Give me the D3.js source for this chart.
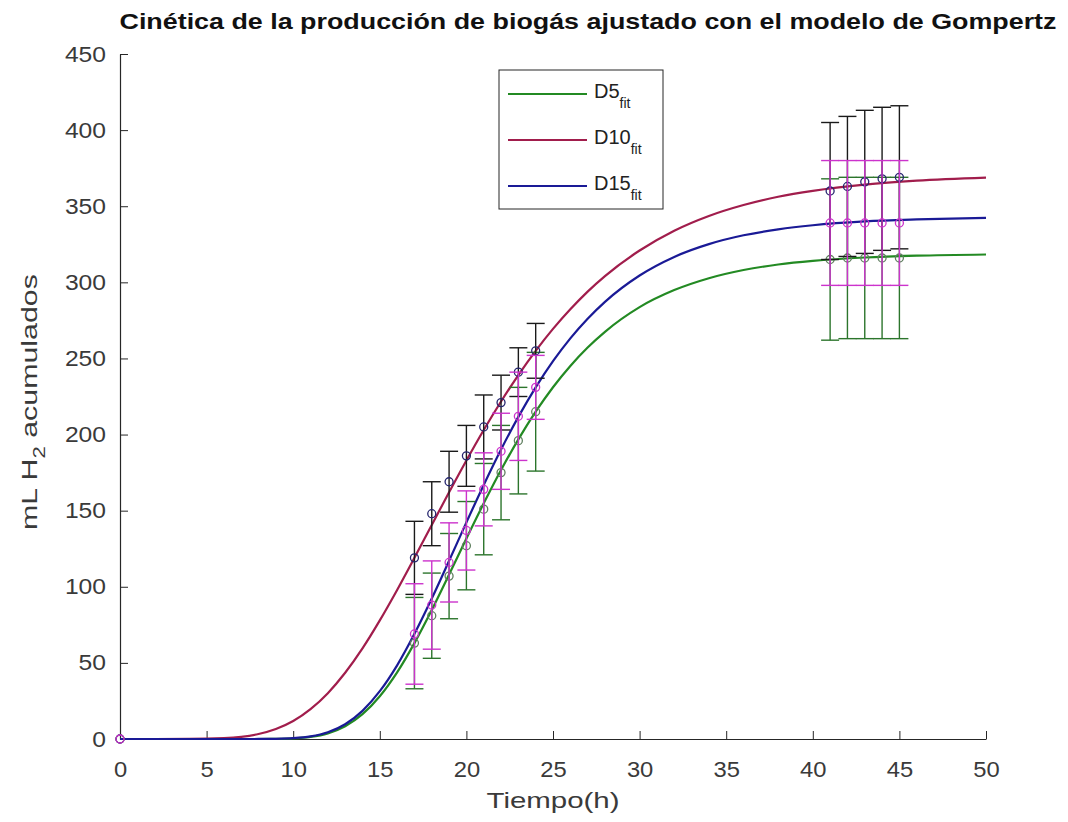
<!DOCTYPE html>
<html>
<head>
<meta charset="utf-8">
<script src="https://cdn.jsdelivr.net/npm/d3@7"></script>
<style>
  body { margin: 0; background: #fff; }
  svg text { font-family: "Liberation Sans", Arial, sans-serif; }
</style>
</head>
<body>
<svg id="chart" width="1068" height="822"></svg>
<script>
// fitted curves
const tFit = [0,4,6,7,8,9,10,11,12,13,14,15,16,17,18,19,20,21,22,23,24,25,26,27,28,30,32,34,36,38,40,43,46,50];
const d5Fit = [0,0,0,0,0.01,0.09,0.4,1.37,3.7,8.4,16.3,28.1,43.8,63.0,84.7,108.0,131.7,154.8,176.7,196.8,215.0,231.1,245.1,257.2,267.5,283.7,294.9,302.7,308.1,311.7,314.1,316.3,317.5,318.3];
const d10Fit = [0,0.05,0.56,1.44,3.26,6.52,11.8,19.6,30.1,43.5,59.5,77.9,97.9,119.0,140.6,162.1,183.0,203.0,221.7,239.1,255.0,269.4,282.3,293.9,304.1,320.9,333.9,343.6,350.8,356.2,360.1,364.2,366.8,368.8];
const d15Fit = [0,0,0,0,0.02,0.12,0.52,1.68,4.4,9.7,18.5,31.4,48.4,69.1,92.3,117.1,142.3,166.9,190.2,211.6,231.0,248.2,263.2,276.1,287.2,304.5,316.7,325.1,330.9,334.8,337.5,340.0,341.3,342.3];

// measured points with error bars
const tData = [0,17,18,19,20,21,22,23,24,41,42,43,44,45];
const d5Mean = [0,63,81,107,127,151,175,196,215,315,316,316,316,316];
const d5Err = [0,30,28,28,29,30,31,35,39,53,53,53,53,53];
const d10Mean = [0,119,148,169,186,205,221,241,255,360,363,366,368,369];
const d10Err = [0,24,21,20,20,21,18,16,18,45,46,47,47,47];
const d15Mean = [0,69,88,116,137,164,189,212,231,339,339,339,339,339];
const d15Err = [0,33,29,26,26,24,25,29,21,41,41,41,41,41];

const xTicks = [0,5,10,15,20,25,30,35,40,45,50];
const yTicks = [0,50,100,150,200,250,300,350,400,450];

//////////////////////////
// setup
//////////////////////////
let svg = d3.select("#chart");
let margin = {left: 120, right: 82, top: 54, bottom: 83};
let width = 1068 - margin.left - margin.right;
let height = 822 - margin.top - margin.bottom;
let axisColor = "#262626";

let xScale = d3.scaleLinear().domain([0, 50]).range([0, width]);
let yScale = d3.scaleLinear().domain([0, 450]).range([height, 0]);

let g = svg.append("g")
  .attr("transform", `translate(${margin.left},${margin.top})`);

//////////////////////////
// axes (ticks inside, no box)
//////////////////////////
let xAxis = g.append("g")
  .attr("transform", `translate(0,${height})`)
  .call(d3.axisBottom(xScale).tickValues(xTicks).tickSizeInner(-8).tickSizeOuter(0).tickPadding(22));

let yAxis = g.append("g")
  .call(d3.axisLeft(yScale).tickValues(yTicks).tickSizeInner(-8).tickSizeOuter(0).tickPadding(14));

[xAxis, yAxis].forEach(a => {
  a.select(".domain").attr("stroke", axisColor).attr("stroke-width", 1.2);
  a.selectAll(".tick line").attr("stroke", axisColor);
  a.selectAll(".tick text")
    .attr("fill", "#3a3a3a")
    .style("font-size", "22px");
});
xAxis.selectAll(".tick text").attr("dy", "0.71em");

// the original figure's text is a little wider than Liberation Sans
function widen(sel, k) {
  sel.each(function() {
    let w = this.getComputedTextLength();
    d3.select(this).attr("textLength", w * k).attr("lengthAdjust", "spacingAndGlyphs");
  });
}
widen(xAxis.selectAll(".tick text"), 1.08);
widen(yAxis.selectAll(".tick text"), 1.12);

//////////////////////////
// fitted curves
//////////////////////////
let curves = [
  {name: "D5", vals: d5Fit, color: "#238a23"},
  {name: "D10", vals: d10Fit, color: "#a11d4c"},
  {name: "D15", vals: d15Fit, color: "#1a1a96"}
];

let line = d3.line()
  .x(d => xScale(d[0]))
  .y(d => yScale(d[1]))
  .curve(d3.curveMonotoneX);

curves.forEach(c => {
  g.append("path")
    .datum(tFit.map((t, i) => [t, c.vals[i]]))
    .attr("fill", "none")
    .attr("stroke", c.color)
    .attr("stroke-width", 2.2)
    .attr("d", line);
});

//////////////////////////
// error bars
//////////////////////////
let capW = 9;
let sets = [
  {mean: d5Mean, err: d5Err, bar: "#2c752c", dot: "#5f7f5f"},
  {mean: d10Mean, err: d10Err, bar: "#1a1a1a", dot: "#25256e"},
  {mean: d15Mean, err: d15Err, bar: "#cc33cc", dot: "#cc33cc"}
];

sets.forEach(s => {
  let pts = tData.map((t, i) => ({t: t, m: s.mean[i], e: s.err[i]}));
  let eb = g.append("g");
  let withErr = pts.filter(d => d.e > 0);

  eb.selectAll(".v").data(withErr).enter().append("line")
    .attr("x1", d => xScale(d.t)).attr("x2", d => xScale(d.t))
    .attr("y1", d => yScale(d.m - d.e)).attr("y2", d => yScale(d.m + d.e))
    .attr("stroke", s.bar).attr("stroke-width", 1.4);

  eb.selectAll(".top").data(withErr).enter().append("line")
    .attr("x1", d => xScale(d.t) - capW).attr("x2", d => xScale(d.t) + capW)
    .attr("y1", d => yScale(d.m + d.e)).attr("y2", d => yScale(d.m + d.e))
    .attr("stroke", s.bar).attr("stroke-width", 1.4);

  eb.selectAll(".bot").data(withErr).enter().append("line")
    .attr("x1", d => xScale(d.t) - capW).attr("x2", d => xScale(d.t) + capW)
    .attr("y1", d => yScale(d.m - d.e)).attr("y2", d => yScale(d.m - d.e))
    .attr("stroke", s.bar).attr("stroke-width", 1.4);

  eb.selectAll("circle").data(pts).enter().append("circle")
    .attr("cx", d => xScale(d.t))
    .attr("cy", d => yScale(d.m))
    .attr("r", 4)
    .attr("fill", "none")
    .attr("stroke", s.dot)
    .attr("stroke-width", 1.3);
});

//////////////////////////
// legend
//////////////////////////
let legend = svg.append("g").attr("transform", "translate(499,70)");
legend.append("rect")
  .attr("width", 164).attr("height", 139)
  .attr("fill", "#fff")
  .attr("stroke", axisColor).attr("stroke-width", 1);

curves.forEach((c, i) => {
  let y = 24 + i * 46;
  legend.append("line")
    .attr("x1", 9).attr("x2", 88)
    .attr("y1", y).attr("y2", y)
    .attr("stroke", c.color).attr("stroke-width", 2.2);
  let txt = legend.append("text")
    .attr("x", 95).attr("y", y + 4)
    .attr("fill", "#222")
    .style("font-size", "20px");
  txt.append("tspan").text(c.name);
  txt.append("tspan").attr("dy", 10).style("font-size", "14px").text("fit");
});

//////////////////////////
// titles
//////////////////////////
svg.append("text")
  .attr("x", 588)
  .attr("y", 29)
  .attr("text-anchor", "middle")
  .attr("font-weight", "bold")
  .attr("fill", "#111")
  .attr("textLength", 937)
  .attr("lengthAdjust", "spacingAndGlyphs")
  .style("font-size", "22px")
  .text("Cinética de la producción de biogás ajustado con el modelo de Gompertz");

svg.append("text")
  .attr("x", margin.left + width / 2)
  .attr("y", 808)
  .attr("text-anchor", "middle")
  .attr("fill", "#3a3a3a")
  .attr("textLength", 133)
  .attr("lengthAdjust", "spacingAndGlyphs")
  .style("font-size", "22px")
  .text("Tiempo(h)");

let yLab = svg.append("text")
  .attr("transform", "translate(37,402) rotate(-90)")
  .attr("text-anchor", "middle")
  .attr("fill", "#3a3a3a")
  .style("font-size", "22px");
yLab.append("tspan").text("mL H");
yLab.append("tspan").attr("dy", 8).style("font-size", "16px").text("2");
yLab.append("tspan").attr("dy", -8).text(" acumulados");
widen(yLab, 1.38);
</script>
</body>
</html>
